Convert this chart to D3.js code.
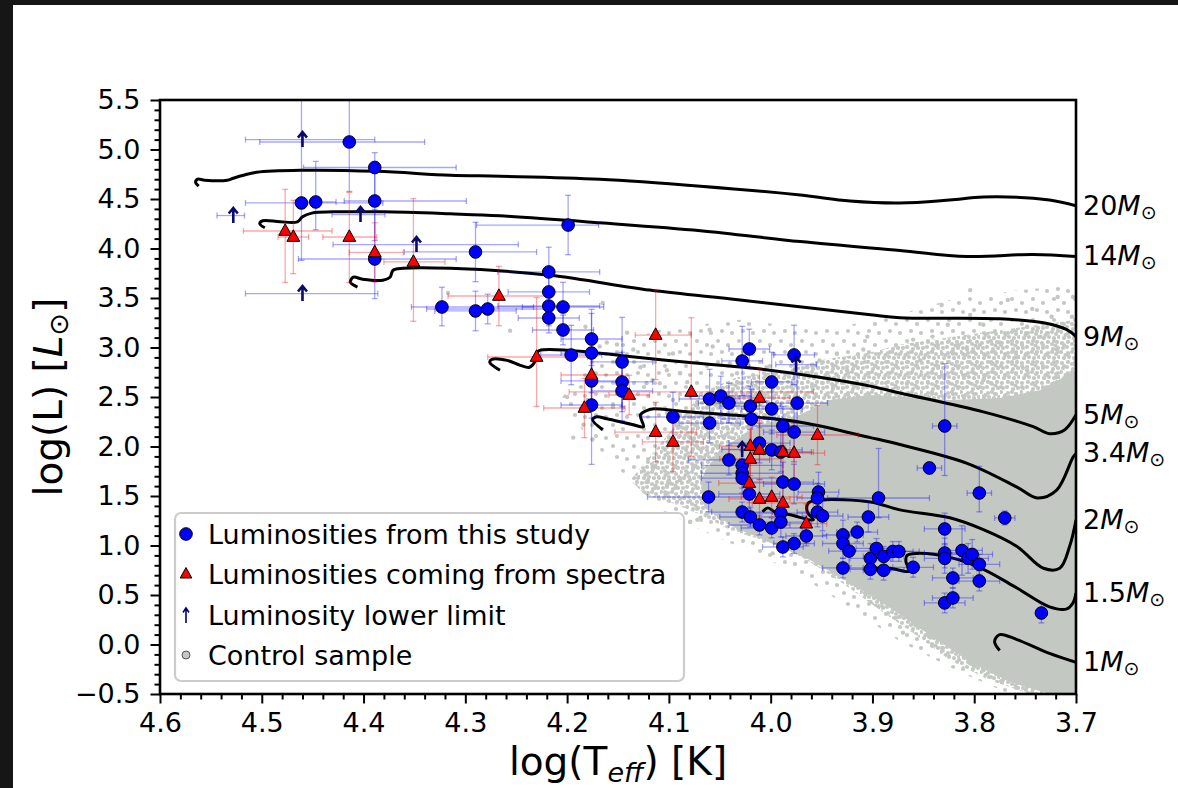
<!DOCTYPE html>
<html><head><meta charset="utf-8">
<script src="https://cdn.jsdelivr.net/npm/d3@7"></script>
<style>
html,body{margin:0;padding:0;background:#161616;}
svg{display:block;font-family:"DejaVu Sans",sans-serif;}
</style></head><body>
<svg id="chart" width="1178" height="788"></svg>
<script>
// ---------------- DATA ----------------
const xTickValues = [4.6,4.5,4.4,4.3,4.2,4.1,4.0,3.9,3.8,3.7];
const yTickValues = [-0.5,0.0,0.5,1.0,1.5,2.0,2.5,3.0,3.5,4.0,4.5,5.0,5.5];

// evolutionary tracks [logTeff, logL]
const track20 = [[4.562,4.63],[4.565,4.67],[4.563,4.70],[4.556,4.69],[4.534,4.69],[4.528,4.71],[4.518,4.74],[4.505,4.77],[4.462,4.79],[4.387,4.78],[4.315,4.74],[4.266,4.73],[4.168,4.70],[4.069,4.63],[3.971,4.54],[3.922,4.48],[3.873,4.46],[3.824,4.49],[3.791,4.52],[3.726,4.49],[3.700,4.43]];
const track14 = [[4.497,4.21],[4.502,4.25],[4.499,4.28],[4.482,4.27],[4.465,4.27],[4.460,4.32],[4.450,4.36],[4.430,4.37],[4.381,4.37],[4.315,4.35],[4.266,4.33],[4.168,4.26],[4.069,4.18],[3.971,4.07],[3.873,3.98],[3.807,3.92],[3.742,3.94],[3.700,3.92]];
const track9 = [[4.406,3.61],[4.413,3.66],[4.410,3.71],[4.401,3.69],[4.381,3.68],[4.374,3.71],[4.371,3.78],[4.361,3.80],[4.315,3.80],[4.217,3.73],[4.119,3.58],[4.030,3.48],[3.902,3.33],[3.873,3.30],[3.775,3.29],[3.732,3.25],[3.709,3.18],[3.700,3.11]];
const track5 = [[4.266,2.77],[4.276,2.85],[4.274,2.88],[4.259,2.87],[4.246,2.82],[4.237,2.80],[4.232,2.85],[4.230,2.94],[4.227,2.97],[4.197,2.97],[4.148,2.92],[4.082,2.85],[4.017,2.79],[3.952,2.70],[3.902,2.61],[3.873,2.54],[3.791,2.35],[3.742,2.20],[3.726,2.13],[3.711,2.17],[3.700,2.32]];
const track34 = [[4.165,2.17],[4.175,2.27],[4.171,2.30],[4.161,2.28],[4.135,2.22],[4.125,2.20],[4.128,2.32],[4.120,2.37],[4.116,2.38],[4.082,2.35],[4.017,2.30],[3.968,2.24],[3.902,2.09],[3.873,2.02],[3.807,1.83],[3.758,1.59],[3.738,1.48],[3.719,1.56],[3.703,1.89],[3.700,1.93]];
const track2 = [[4.008,1.34],[4.003,1.38],[3.996,1.34],[3.981,1.31],[3.958,1.26],[3.964,1.34],[3.963,1.43],[3.952,1.46],[3.902,1.44],[3.873,1.36],[3.824,1.28],[3.791,1.16],[3.758,0.99],[3.732,0.77],[3.716,0.77],[3.706,1.00],[3.700,1.26]];
const track15 = [[3.902,0.85],[3.899,0.78],[3.883,0.77],[3.863,0.74],[3.867,0.83],[3.866,0.90],[3.856,0.92],[3.824,0.88],[3.791,0.76],[3.758,0.57],[3.726,0.38],[3.709,0.36],[3.703,0.42],[3.700,0.52]];
const track1 = [[3.775,-0.06],[3.780,0.03],[3.775,0.10],[3.758,0.05],[3.726,-0.09],[3.700,-0.18]];
const trackMasses = ["20","14","9","5","3.4","2","1.5","1"];

// control sample: outlines of the sparse, medium and dense parts of the cloud, plus isolated stars
const controlOuter = [[4.207,2.47],[4.168,2.98],[4.109,3.18],[4.030,3.28],[3.952,3.18],[3.893,3.28],[3.824,3.48],[3.755,3.58],[3.700,3.63],[3.700,-0.5],[3.765,-0.5],[3.814,-0.28],[3.873,0.03],[3.912,0.30],[3.952,0.57],[3.991,0.80],[4.030,0.98],[4.069,1.16],[4.109,1.36],[4.148,1.76],[4.178,2.07]];
const controlHalo = [[4.138,1.66],[4.109,2.02],[4.067,2.55],[4.033,2.70],[3.984,2.77],[3.952,2.87],[3.902,2.95],[3.873,3.03],[3.807,3.13],[3.742,3.22],[3.700,3.28],[3.700,-0.5],[3.745,-0.5],[3.785,-0.36],[3.824,-0.16],[3.858,0.10],[3.893,0.35],[3.927,0.60],[3.956,0.80],[3.986,0.98],[4.010,1.06],[4.040,1.16],[4.069,1.31],[4.099,1.44],[4.123,1.51]];
const controlCore = [[4.050,1.97],[4.010,2.22],[3.971,2.32],[3.942,2.47],[3.902,2.52],[3.824,2.47],[3.775,2.49],[3.735,2.57],[3.700,2.77],[3.700,-0.5],[3.726,-0.5],[3.765,-0.38],[3.804,-0.18],[3.843,0.09],[3.883,0.37],[3.922,0.62],[3.961,0.85],[4.001,1.03],[4.035,1.18],[4.065,1.38],[4.069,1.66]];
const controlSparse = [[4.256,3.17],[4.182,3.21],[4.165,3.45],[4.168,3.01],[4.161,3.05],[4.151,3.03],[4.141,3.15],[4.135,2.98],[4.128,2.80],[4.122,2.64],[4.116,2.67],[4.109,2.64],[4.102,2.77],[4.096,2.94],[4.089,2.74],[4.082,2.65],[4.096,2.47],[4.102,2.34],[4.089,2.20],[4.076,2.07],[4.069,1.97],[4.076,1.79],[4.089,1.66],[4.102,1.61],[4.122,1.64],[4.116,1.79],[4.072,1.26],[4.079,1.24],[4.194,2.09],[4.175,2.07],[4.184,2.22],[4.200,2.50],[4.180,2.47],[4.155,2.40],[4.060,3.18],[4.057,3.01],[4.040,2.84],[4.033,2.74],[4.004,2.80],[3.984,2.74],[3.964,2.80],[3.952,2.87],[3.935,2.94],[3.925,2.77],[3.909,2.98],[3.919,2.64],[3.905,3.11],[3.804,3.58],[3.832,3.43],[3.767,3.48],[3.743,3.39],[3.718,3.51],[3.703,3.51],[3.804,3.33],[3.826,3.23],[3.791,3.23],[3.748,3.21],[3.724,3.31],[3.704,3.31],[3.860,3.08],[3.841,3.11],[3.807,2.98],[3.775,3.05],[3.735,3.11],[3.853,2.87],[3.821,2.94],[3.782,2.84],[3.758,2.90],[3.719,2.98],[3.866,2.64],[3.834,2.70],[3.791,2.67],[3.748,2.77],[3.719,2.70],[4.099,1.63],[4.069,1.28],[3.998,0.92],[3.949,0.78],[3.902,0.43],[3.890,0.38],[3.873,0.28],[3.870,0.12],[3.843,0.07],[3.831,-0.06],[3.804,-0.19],[3.791,-0.26],[3.758,-0.39],[3.772,-0.36],[4.317,3.55]];

// luminosities from this study: [logT, logL, dT(cooler), dT(hotter), dL(low), dL(high)]
const studyStars = [
[4.414,5.076,0.074,0.088,0.50,0.60],[4.389,4.818,0.08,0.07,0.30,0.15],[4.461,4.460,0.08,0.055,0.58,1.10],[4.447,4.470,0.02,0.02,0.28,0.41],
[4.389,4.480,0.09,0.03,0.40,0.40],[4.389,3.894,0.08,0.075,0.40,0.50],[4.323,3.409,0.09,0.03,0.19,0.20],[4.290,3.965,0.06,0.07,0.30,0.30],
[4.290,3.369,0.04,0.04,0.20,0.20],[4.278,3.389,0.06,0.06,0.15,0.15],[4.199,4.237,0.03,0.09,0.30,0.30],[4.218,3.763,0.05,0.05,0.25,0.25],
[4.218,3.561,0.04,0.04,0.20,0.20],[4.218,3.419,0.05,0.05,0.20,0.20],[4.204,3.409,0.04,0.04,0.25,0.25],[4.218,3.298,0.03,0.03,0.15,0.15],
[4.204,3.177,0.03,0.03,0.15,0.15],[4.196,2.924,0.03,0.03,0.30,0.30],[4.176,3.086,0.03,0.03,0.80,0.30],[4.176,2.944,0.03,0.03,0.40,0.40],
[4.176,2.662,0.03,0.03,0.30,0.30],[4.176,2.419,0.03,0.03,0.60,0.40],[4.146,2.854,0.03,0.03,0.45,0.45],[4.146,2.652,0.03,0.03,0.30,0.30],
[4.146,2.561,0.03,0.03,0.30,0.30],[4.021,2.985,0.02,0.02,0.20,0.20],[4.028,2.864,0.02,0.02,0.35,0.35],[3.977,2.925,0.02,0.02,0.30,0.30],
[3.999,2.652,0.02,0.02,0.30,0.30],[3.974,2.439,0.03,0.03,0.30,0.30],[4.060,2.480,0.03,0.03,0.30,0.30],[4.049,2.510,0.03,0.03,0.20,0.20],
[4.041,2.439,0.03,0.03,0.20,0.20],[4.020,2.409,0.03,0.03,0.20,0.20],[3.999,2.379,0.03,0.03,0.25,0.25],[4.096,2.298,0.03,0.03,0.25,0.25],
[4.060,2.237,0.03,0.03,0.20,0.20],[4.019,2.278,0.03,0.03,0.30,0.30],[3.988,2.207,0.03,0.03,0.20,0.20],[3.977,2.146,0.03,0.03,0.30,0.30],
[4.011,2.035,0.03,0.03,0.20,0.20],[3.999,1.965,0.03,0.03,0.20,0.20],[3.990,1.944,0.03,0.03,0.20,0.20],[4.041,1.864,0.04,0.04,0.15,0.15],
[4.028,1.810,0.04,0.04,0.15,0.15],[4.028,1.730,0.04,0.04,0.15,0.15],[4.028,1.680,0.04,0.04,0.15,0.15],[3.988,1.641,0.03,0.03,0.20,0.20],
[3.977,1.621,0.03,0.03,0.20,0.20],[4.061,1.490,0.06,0.06,0.15,0.15],[4.021,1.520,0.03,0.03,0.15,0.15],[3.953,1.540,0.02,0.02,0.20,0.20],
[3.954,1.480,0.02,0.02,0.15,0.15],[4.028,1.338,0.03,0.03,0.10,0.10],[4.020,1.288,0.03,0.03,0.10,0.10],[4.011,1.207,0.03,0.03,0.10,0.10],
[3.999,1.177,0.03,0.03,0.10,0.10],[3.990,1.328,0.03,0.03,0.15,0.15],[3.990,1.237,0.03,0.03,0.15,0.15],[3.988,0.985,0.02,0.02,0.10,0.10],
[3.977,1.020,0.02,0.02,0.10,0.10],[3.965,1.096,0.02,0.02,0.10,0.10],[3.954,1.338,0.02,0.02,0.15,0.15],[3.949,1.298,0.02,0.02,0.15,0.15],
[3.929,1.106,0.02,0.02,0.15,0.15],[3.929,1.020,0.02,0.02,0.15,0.15],[3.915,1.136,0.02,0.02,0.10,0.10],[3.904,1.288,0.02,0.02,0.15,0.15],
[3.894,1.480,0.05,0.05,0.20,0.50],[3.923,0.944,0.02,0.02,0.15,0.15],[3.929,0.773,0.02,0.02,0.10,0.10],[3.902,0.870,0.02,0.02,0.15,0.15],
[3.902,0.760,0.02,0.02,0.10,0.10],[3.896,0.970,0.02,0.02,0.10,0.10],[3.889,0.890,0.02,0.02,0.10,0.10],[3.889,0.750,0.02,0.02,0.10,0.10],
[3.880,0.940,0.02,0.02,0.10,0.10],[3.874,0.940,0.02,0.02,0.10,0.10],[3.860,0.780,0.02,0.02,0.10,0.10],[3.844,1.783,0.012,0.012,0.06,0.06],
[3.829,1.167,0.02,0.02,0.16,0.16],[3.829,0.924,0.02,0.02,0.15,0.15],[3.829,0.870,0.02,0.02,0.15,0.15],[3.821,0.672,0.02,0.02,0.10,0.10],
[3.829,0.420,0.02,0.02,0.10,0.10],[3.821,0.470,0.02,0.02,0.10,0.10],[3.812,0.950,0.02,0.02,0.25,0.25],[3.806,0.870,0.02,0.02,0.15,0.15],
[3.802,0.910,0.02,0.02,0.15,0.15],[3.795,0.810,0.02,0.02,0.10,0.10],[3.795,0.641,0.02,0.02,0.10,0.10],[3.795,1.530,0.012,0.012,0.19,0.27],
[3.770,1.278,0.01,0.01,0.07,0.07],[3.734,0.318,0.005,0.005,0.10,0.10],[3.829,2.207,0.012,0.012,0.50,0.63]];

// luminosities coming from spectra
const spectraStars = [
[4.477,4.177,0.046,0.041,0.52,0.42],[4.469,4.116,0.015,0.015,0.37,0.37],[4.414,4.116,0.027,0.026,0.46,0.45],[4.389,3.960,0.028,0.025,0.30,0.30],
[4.351,3.864,0.031,0.029,0.60,0.64],[4.267,3.520,0.05,0.05,0.30,0.30],[4.230,2.904,0.05,0.048,0.50,0.60],[4.176,2.722,0.03,0.03,0.30,0.30],
[4.139,2.520,0.02,0.02,0.20,0.20],[4.183,2.389,0.04,0.04,0.30,0.30],[4.113,3.126,0.035,0.02,0.45,0.45],[4.078,2.551,0.12,0.12,0.65,0.75],
[4.011,2.490,0.03,0.03,0.30,0.30],[4.113,2.146,0.04,0.04,0.30,0.30],[4.096,2.046,0.03,0.03,0.30,0.30],[4.020,2.005,0.03,0.03,0.30,0.30],
[3.954,2.116,0.04,0.04,0.30,0.30],[4.011,1.965,0.03,0.03,0.30,0.30],[4.020,1.874,0.03,0.03,0.30,0.30],[3.977,1.934,0.03,0.03,0.30,0.30],
[3.988,1.944,0.03,0.03,0.30,0.30],[4.021,1.631,0.03,0.03,0.20,0.20],[4.011,1.470,0.03,0.03,0.20,0.20],[3.999,1.490,0.03,0.03,0.20,0.20],
[3.988,1.430,0.03,0.03,0.20,0.20],[3.965,1.220,0.02,0.02,0.20,0.20]];

// luminosity lower limits: [logT, logL, dT(cooler), dT(hotter)]
const lowerLimits = [[4.460,5.10,0.071,0.056],[4.528,4.333,0.011,0.016],[4.403,4.343,0.024,0.028],[4.348,4.04,0.10,0.082],[4.460,3.545,0.074,0.056],[3.975,2.828,0.02,0.02],[4.028,1.97,0.02,0.02]];

const legendLabels = ["Luminosities from this study","Luminosities coming from spectra","Luminosity lower limit","Control sample"];

// ---------------- DRAW ----------------
const W = 1178, H = 788;
const svg = d3.select("#chart");
svg.append("rect").attr("width",W).attr("height",H).attr("fill","#161616");
svg.append("rect").attr("x",13).attr("y",5).attr("width",W-13).attr("height",H-5).attr("fill","#ffffff");

const L = 160, R = 1076, T = 100, B = 694;
const x = d3.scaleLinear().domain([4.6,3.7]).range([L,R]);
const y = d3.scaleLinear().domain([-0.5,5.5]).range([B,T]);

const GRAY = "#c4c8c3";
const defs = svg.append("defs");
defs.append("clipPath").attr("id","clip").append("rect").attr("x",L).attr("y",T).attr("width",R-L).attr("height",B-T);
// texture tiles (styling only)
const patMed = defs.append("pattern").attr("id","dotsMed").attr("patternUnits","userSpaceOnUse").attr("width",20).attr("height",20);
[[2,3],[8,2],[12,4],[17,2],[3,8],[7,7],[13,9],[18,8],[1,12],[8,13],[12,12],[16,14],[4,18],[9,17],[14,18],[19,17],[5.5,15],[15.5,5.5]]
  .forEach(p=>patMed.append("circle").attr("cx",p[0]).attr("cy",p[1]).attr("r",2.1).attr("fill",GRAY));
const patSparse = defs.append("pattern").attr("id","dotsSparse").attr("patternUnits","userSpaceOnUse").attr("width",21).attr("height",21);
[[4,5],[14,9],[8,16],[18,18]].forEach(p=>patSparse.append("circle").attr("cx",p[0]).attr("cy",p[1]).attr("r",2.1).attr("fill",GRAY));

const plot = svg.append("g").attr("clip-path","url(#clip)");
const poly = d3.line().x(d=>x(d[0])).y(d=>y(d[1])).curve(d3.curveLinearClosed);
plot.append("path").attr("d",poly(controlOuter)).attr("fill","url(#dotsSparse)");
plot.append("path").attr("d",poly(controlHalo)).attr("fill","url(#dotsMed)");
plot.append("path").attr("d",poly(controlCore)).attr("fill",GRAY);
plot.append("g").selectAll("circle").data(controlSparse).join("circle")
  .attr("cx",d=>x(d[0])).attr("cy",d=>y(d[1])).attr("r",2.2).attr("fill",GRAY);

// tracks
const tracks = [track20,track14,track9,track5,track34,track2,track15,track1];
const tline = d3.line().x(d=>x(d[0])).y(d=>y(d[1])).curve(d3.curveCatmullRom.alpha(0.5));
plot.append("g").selectAll("path").data(tracks).join("path")
  .attr("d",d=>tline(d)).attr("fill","none").attr("stroke","#000").attr("stroke-width",3);

// error bars
function errorBars(data, color, hasY){
  const g = plot.append("g").attr("stroke",color).attr("stroke-opacity",0.35).attr("stroke-width",1.3).attr("fill","none");
  const cap = 3;
  data.forEach(d=>{
    const cx = x(d[0]), cy = y(d[1]);
    const xl = x(d[0]+d[3]), xr = x(d[0]-d[2]);
    g.append("line").attr("x1",xl).attr("x2",xr).attr("y1",cy).attr("y2",cy);
    g.append("line").attr("x1",xl).attr("x2",xl).attr("y1",cy-cap).attr("y2",cy+cap);
    g.append("line").attr("x1",xr).attr("x2",xr).attr("y1",cy-cap).attr("y2",cy+cap);
    if(hasY){
      const yt = y(d[1]+d[5]), yb = y(d[1]-d[4]);
      g.append("line").attr("x1",cx).attr("x2",cx).attr("y1",yt).attr("y2",yb);
      g.append("line").attr("x1",cx-cap).attr("x2",cx+cap).attr("y1",yt).attr("y2",yt);
      g.append("line").attr("x1",cx-cap).attr("x2",cx+cap).attr("y1",yb).attr("y2",yb);
    }
  });
}
errorBars(studyStars,"#0000ff",true);
errorBars(lowerLimits,"#0000ff",false);
errorBars(spectraStars,"#ff0000",true);

const triPath = "M0,-7.2L6.4,4.3L-6.4,4.3Z";
const arrowPath = "M0,7.5L0,-6.5M-4.5,-2L0,-7.5L4.5,-2";
plot.append("g").selectAll("circle").data(studyStars).join("circle")
  .attr("cx",d=>x(d[0])).attr("cy",d=>y(d[1])).attr("r",6.3)
  .attr("fill","#0000ff").attr("stroke","#000").attr("stroke-width",1);
plot.append("g").selectAll("path").data(spectraStars).join("path")
  .attr("d",triPath).attr("transform",d=>`translate(${x(d[0])},${y(d[1])})`)
  .attr("fill","#ff0000").attr("stroke","#000").attr("stroke-width",1);
plot.append("g").selectAll("path").data(lowerLimits).join("path")
  .attr("d",arrowPath).attr("transform",d=>`translate(${x(d[0])},${y(d[1])})`)
  .attr("fill","none").attr("stroke","#0a0a6a").attr("stroke-width",2.6);

// axes
const fmt = d => (d<0?"\u2212":"") + Math.abs(d).toFixed(1);
const xMinor = d3.range(3.70,4.601,0.02).filter(v=>!xTickValues.some(t=>Math.abs(t-v)<1e-6));
const yMinor = d3.range(-0.5,5.501,0.1).filter(v=>!yTickValues.some(t=>Math.abs(t-v)<1e-6));
svg.append("g").attr("transform",`translate(0,${B})`)
  .call(d3.axisBottom(x).tickValues(xTickValues).tickFormat(fmt).tickSize(9.5).tickPadding(9).tickSizeOuter(0));
svg.append("g").attr("transform",`translate(0,${B})`)
  .call(d3.axisBottom(x).tickValues(xMinor).tickFormat("").tickSize(5.5).tickSizeOuter(0));
svg.append("g").attr("transform",`translate(${L},0)`)
  .call(d3.axisLeft(y).tickValues(yTickValues).tickFormat(fmt).tickSize(9.5).tickPadding(10).tickSizeOuter(0));
svg.append("g").attr("transform",`translate(${L},0)`)
  .call(d3.axisLeft(y).tickValues(yMinor).tickFormat("").tickSize(5.5).tickSizeOuter(0));
svg.selectAll(".domain").remove();
svg.selectAll(".tick line").attr("stroke","#000").attr("stroke-width",2);
svg.selectAll(".tick text").attr("font-size",27).attr("fill","#000").attr("font-family","DejaVu Sans");

svg.append("rect").attr("x",L).attr("y",T).attr("width",R-L).attr("height",B-T)
  .attr("fill","none").attr("stroke","#000").attr("stroke-width",2.6);

// mass labels at the end of each track
tracks.forEach((tr,i)=>{
  const end = tr[tr.length-1];
  const t = svg.append("text").attr("x",R+7).attr("y",y(end[1])+9).attr("font-size",27).attr("fill","#000");
  t.append("tspan").text(trackMasses[i]);
  t.append("tspan").attr("font-style","italic").text("M");
  t.append("tspan").attr("font-size",19).attr("dy",4).text("\u2299");
});

// axis labels
const xl = svg.append("text").attr("x",(L+R)/2).attr("y",775).attr("text-anchor","middle").attr("font-size",39);
xl.append("tspan").text("log(T");
xl.append("tspan").attr("font-style","italic").attr("font-size",27).attr("dy",7).text("eff");
xl.append("tspan").attr("dy",-7).text(") [K]");
const yl = svg.append("text").attr("transform",`translate(62,${(T+B)/2}) rotate(-90)`).attr("text-anchor","middle").attr("font-size",39);
yl.append("tspan").text("log(L) [");
yl.append("tspan").attr("font-style","italic").text("L");
yl.append("tspan").attr("font-size",27).attr("dy",6).text("\u2299");
yl.append("tspan").attr("dy",-6).text("]");

// legend
const lg = svg.append("g");
lg.append("rect").attr("x",175).attr("y",513).attr("width",509).attr("height",168).attr("rx",6)
  .attr("fill","#fff").attr("fill-opacity",0.8).attr("stroke","#cccccc").attr("stroke-width",2.2);
const ly = [534,574,615,655];
lg.append("circle").attr("cx",186).attr("cy",ly[0]).attr("r",6.3).attr("fill","#0000ff").attr("stroke","#000");
lg.append("path").attr("d","M0,-6.5L5.8,4L-5.8,4Z").attr("transform",`translate(186,${ly[1]})`).attr("fill","#ff0000").attr("stroke","#000");
lg.append("path").attr("d","M0,8L0,-6M-3,-2.5L0,-7L3,-2.5").attr("transform",`translate(186,${ly[2]})`).attr("fill","none").attr("stroke","#00007a").attr("stroke-width",1.6);
lg.append("circle").attr("cx",186).attr("cy",ly[3]).attr("r",4).attr("fill",GRAY).attr("stroke","#555").attr("stroke-width",1);
legendLabels.forEach((t,i)=>{
  lg.append("text").attr("x",208).attr("y",ly[i]+9.5).attr("font-size",27).attr("fill","#000").text(t);
});
</script></body></html>
